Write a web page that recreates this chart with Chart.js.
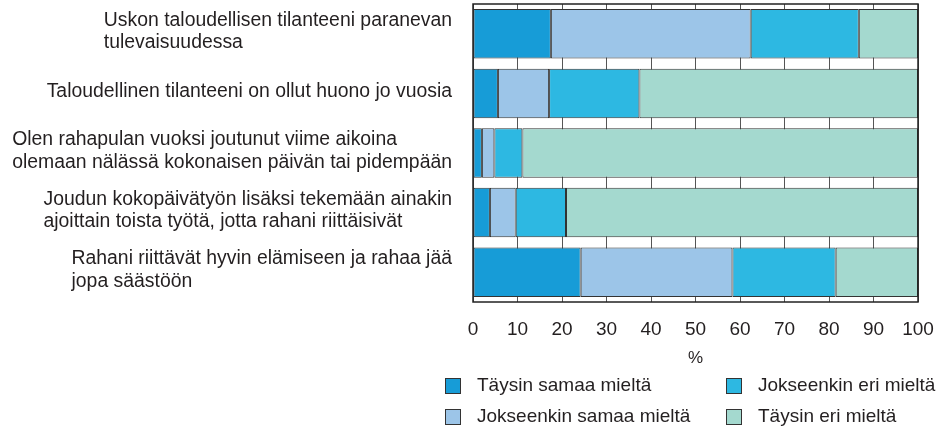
<!DOCTYPE html>
<html lang="fi">
<head>
<meta charset="UTF-8">
<title>Taloudellinen tilanne</title>
<script src="https://cdn.jsdelivr.net/npm/chart.js@4.4.1/dist/chart.umd.min.js"></script>
<style>
  html, body { margin: 0; padding: 0; background: #fff; }
  #wrap { width: 951px; height: 431px; }
</style>
</head>
<body>
<div id="wrap"><canvas id="myChart"></canvas></div>
<script>
// data
const statements = [
  ['Uskon taloudellisen tilanteeni paranevan', 'tulevaisuudessa'],
  ['Taloudellinen tilanteeni on ollut huono jo vuosia'],
  ['Olen rahapulan vuoksi joutunut viime aikoina', 'olemaan nälässä kokonaisen päivän tai pidempään'],
  ['Joudun kokopäivätyön lisäksi tekemään ainakin', 'ajoittain toista työtä, jotta rahani riittäisivät'],
  ['Rahani riittävät hyvin elämiseen ja rahaa jää', 'jopa säästöön']
];
const answers = ['Täysin samaa mieltä', 'Jokseenkin samaa mieltä', 'Jokseenkin eri mieltä', 'Täysin eri mieltä'];
const taysinSamaa = [17.5, 5.6, 2.0, 3.8, 24.2];
const jokseenkinSamaa = [44.9, 11.5, 2.8, 5.8, 34.1];
const jokseenkinEri = [24.3, 20.3, 6.3, 11.3, 23.2];
const taysinEri = [13.3, 62.6, 88.9, 79.1, 18.5];
const xTicks = [0, 10, 20, 30, 40, 50, 60, 70, 80, 90, 100];
const colors = ['#179cd7', '#9cc5e8', '#2db8e2', '#a4d9cf'];

const FONT = '"Liberation Sans", Arial, sans-serif';
const TEXT = '#231f20';

// frame around the plot area
const framePlugin = {
  id: 'frame',
  afterDatasetsDraw(chart) {
    const { ctx, chartArea: a } = chart;
    ctx.save();
    ctx.strokeStyle = '#222';
    ctx.lineWidth = 1.5;
    ctx.strokeRect(a.left, a.top, a.right - a.left, a.bottom - a.top);
    ctx.restore();
  }
};

// category labels: each block left aligned, block ends next to the axis
const catLabels = {
  id: 'catLabels',
  afterDraw(chart) {
    const { ctx } = chart;
    const y = chart.scales.y;
    ctx.save();
    ctx.font = '19.4px ' + FONT;
    ctx.fillStyle = TEXT;
    ctx.textAlign = 'left';
    ctx.textBaseline = 'middle';
    const lh = 22.5;
    statements.forEach((lines, i) => {
      const w = Math.max(...lines.map(l => ctx.measureText(l).width));
      const x = 452 - w;
      const cy = y.getPixelForValue(i) - 2;
      const y0 = cy - (lines.length - 1) * lh / 2;
      lines.forEach((l, j) => ctx.fillText(l, x, y0 + j * lh));
    });
    ctx.restore();
  }
};

// legend in two columns
const legend2 = {
  id: 'legend2',
  afterDraw(chart) {
    const { ctx } = chart;
    const cols = [445, 726];
    const rows = [386, 417];
    ctx.save();
    ctx.font = '19px ' + FONT;
    ctx.textAlign = 'left';
    ctx.textBaseline = 'middle';
    chart.data.datasets.forEach((ds, i) => {
      const x = cols[Math.floor(i / 2)];
      const yy = rows[i % 2];
      ctx.fillStyle = ds.backgroundColor;
      ctx.fillRect(x, yy - 8, 16, 16);
      ctx.strokeStyle = '#333';
      ctx.lineWidth = 1;
      ctx.strokeRect(x + 0.5, yy - 7.5, 15, 15);
      ctx.fillStyle = TEXT;
      ctx.fillText(ds.label, x + 32, yy);
    });
    ctx.restore();
  }
};

const series = [taysinSamaa, jokseenkinSamaa, jokseenkinEri, taysinEri];

const data = {
  labels: statements,
  datasets: series.map((s, i) => ({
    label: answers[i],
    data: s,
    backgroundColor: colors[i],
    borderColor: '#333',
    borderWidth: 1,
    borderSkipped: false,
    barPercentage: 0.83,
    categoryPercentage: 1
  }))
};

const config = {
  type: 'bar',
  data: data,
  options: {
    indexAxis: 'y',
    responsive: true,
    maintainAspectRatio: false,
    animation: false,
    devicePixelRatio: 1,
    layout: { padding: { left: 473, right: 33, top: 4, bottom: 62 } },
    plugins: {
      legend: { display: false },
      tooltip: { enabled: false }
    },
    scales: {
      x: {
        stacked: true,
        min: 0,
        max: 100,
        afterBuildTicks(scale) { scale.ticks = xTicks.map(v => ({ value: v })); },
        afterFit(scale) { scale.height = 67; },
        grid: { color: '#555', lineWidth: 1, drawTicks: false },
        border: { display: false },
        ticks: { color: TEXT, font: { size: 19, family: FONT }, padding: 16, maxRotation: 0 },
        title: { display: true, text: '%', color: TEXT, font: { size: 17, family: FONT }, padding: { top: 4, bottom: 0 } }
      },
      y: {
        stacked: true,
        display: false
      }
    }
  },
  plugins: [framePlugin, catLabels, legend2]
};

const myChart = new Chart(document.getElementById('myChart'), config);
</script>
</body>
</html>
